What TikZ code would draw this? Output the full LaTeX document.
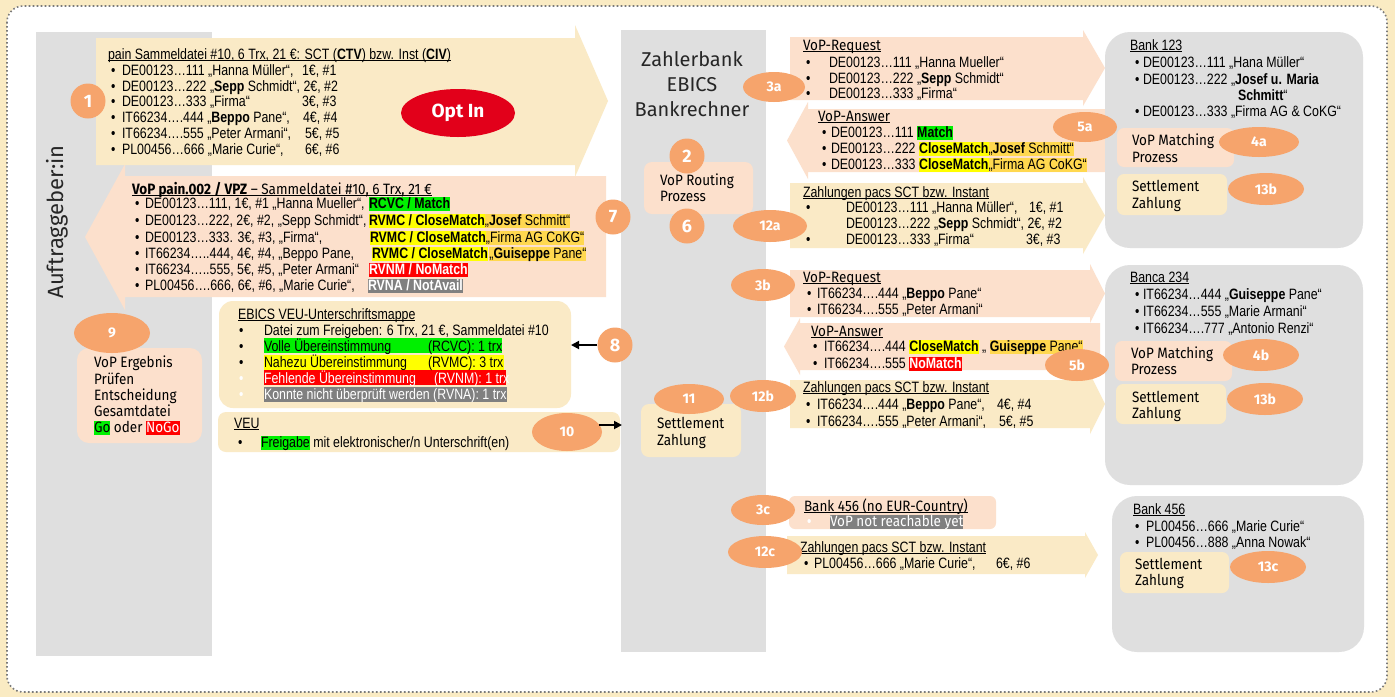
\documentclass[tikz,border=0pt]{standalone}
\usepackage{fontspec}
\usetikzlibrary{shapes.geometric,arrows.meta,calc}
\newfontfamily\an{Liberation Sans}[FakeStretch=0.825]
\newfontfamily\tg{Fira Sans}[FakeStretch=0.9]
\newfontfamily\tgw{Fira Sans}

\definecolor{cream}{HTML}{FAEAC6}
\definecolor{peach}{HTML}{FCE0CC}
\definecolor{badge}{HTML}{F6A46C}
\definecolor{colgray}{HTML}{DFDFDF}
\definecolor{hlgreen}{HTML}{00F000}
\definecolor{hlyellow}{HTML}{FFFF00}
\definecolor{hlgold}{HTML}{FFD84F}
\definecolor{hlred}{HTML}{FF0000}
\definecolor{hlgray}{HTML}{808080}
\definecolor{optred}{HTML}{E2001A}
\definecolor{framebg}{HTML}{FAEBC3}
\definecolor{dotcol}{HTML}{7A7A7A}

\newcommand\ul[1]{\underline{\raisebox{0pt}[\height][0pt]{#1}}}
\newcommand\hl[2]{{\setlength{\fboxsep}{0pt}\colorbox{#1}{\rule[-3pt]{0pt}{12pt}#2}}}
\newcounter{tn}
\newcommand\tline[4][txt]{\stepcounter{tn}\node[#1] (t\arabic{tn}) at (#2,{#3+5}) {#4};}
\newcommand\bull[3][black]{\stepcounter{tn}\node[txt,text=#1] (t\arabic{tn}) at (#2,{#3+5}) {•};}

\begin{document}
\begin{tikzpicture}[x=1pt,y=-1pt,
  txt/.style={anchor=base west, inner sep=0, outer sep=0, font=\an\fontsize{15}{18}\selectfont},
  lab/.style={txt, font=\tg\fontsize{15}{18}\selectfont},
  panel/.style={inner sep=0, outer sep=0, anchor=north west},
  badgee/.style 2 args={ellipse, fill=badge, inner sep=0, minimum width=#1, minimum height=#2,
     text=white, font=\tgw\bfseries\fontsize{14}{14}\selectfont},
  badgec/.style={circle, fill=badge, inner sep=0, minimum size=35,
     text=white, font=\tgw\bfseries\fontsize{18}{18}\selectfont},
  ptr/.style={-{Triangle[length=8pt,width=8pt]}, line width=1.8pt}]
\useasboundingbox (0,0) rectangle (1395,697);

% frame
\fill[framebg] (0,0) rectangle (1395,697);
\draw[dotcol, fill=white, line width=1.6pt, dash pattern=on 1.6pt off 2.4pt, rounded corners=16pt]
  (7,6) rectangle (1387,692);

% columns
\fill[colgray] (36,32) rectangle (212,656);
\fill[colgray] (621,30) rectangle (766,652);
\node[rotate=90, inner sep=0, font=\tgw\fontsize{22}{22}\selectfont, text=black!85] (auftr) at (57,222) {Auftraggeber:in};
\node[inner sep=0, align=center, font=\tgw\fontsize{20}{25}\selectfont, text=black!85] (zb) at (692,84) {Zahlerbank\\EBICS\\Bankrechner};

% big arrows on the left
\fill[peach] (606,176) -- (125,176) -- (125,164) -- (85,237) -- (125,310) -- (125,297) -- (606,297) -- cycle;
\fill[cream] (96,38) -- (575,38) -- (575,25) -- (608,101) -- (575,177) -- (575,165) -- (96,165) -- cycle;
\node[ellipse, fill=optred, inner sep=0, minimum width=114, minimum height=48, text=white,
  font=\tgw\bfseries\fontsize{19}{19}\selectfont] (optin) at (458,113) {Opt In};

% message arrows on the right
\fill[peach] (790,37) -- (1083,37) -- (1083,30) -- (1105,68) -- (1083,106) -- (1083,100) -- (790,100) -- cycle;
\fill[peach] (1105,109) -- (808,109) -- (808,102) -- (787,140.5) -- (808,179) -- (808,172) -- (1105,172) -- cycle;
\fill[cream] (790,183) -- (1083,183) -- (1083,177) -- (1105,215.5) -- (1083,254) -- (1083,248) -- (790,248) -- cycle;
\fill[peach] (790,270) -- (1090,270) -- (1090,264) -- (1105,293.5) -- (1090,323) -- (1090,317) -- (790,317) -- cycle;
\fill[peach] (1100,323) -- (800,323) -- (800,318) -- (784,346.5) -- (800,375) -- (800,370) -- (1100,370) -- cycle;
\fill[cream] (790,380) -- (1090,380) -- (1090,374) -- (1105,404) -- (1090,434) -- (1090,428) -- (790,428) -- cycle;
\fill[cream] (787,536) -- (1085,536) -- (1085,532) -- (1098,555) -- (1085,578) -- (1085,574) -- (787,574) -- cycle;

% panels
\node[panel, fill=peach, rounded corners=12pt, minimum width=125, minimum height=95] (res) at (77,348) {};
\node[panel, fill=cream, rounded corners=14pt, minimum width=352, minimum height=107] (mappe) at (219,301) {};
\node[panel, fill=cream, rounded corners=8pt, minimum width=402, minimum height=40] (veu) at (218,412) {};
\node[panel, fill=peach, rounded corners=8pt, minimum width=109, minimum height=52] (routing) at (644,162) {};
\node[panel, fill=cream, rounded corners=8pt, minimum width=100, minimum height=53] (settle) at (641,404) {};
\node[panel, fill=peach, rounded corners=6pt, minimum width=207, minimum height=33] (nobank) at (789,496) {};
\node[panel, fill=colgray, rounded corners=25pt, minimum width=258, minimum height=216] (bank1) at (1105,32) {};
\node[panel, fill=colgray, rounded corners=25pt, minimum width=258, minimum height=220] (bank2) at (1105,265) {};
\node[panel, fill=colgray, rounded corners=25pt, minimum width=252, minimum height=156] (bank3) at (1112,496) {};
\node[panel, fill=peach, rounded corners=7pt, minimum width=117, minimum height=39] (match1) at (1117,128) {};
\node[panel, fill=cream, rounded corners=7pt, minimum width=110, minimum height=41] (settle1) at (1117,174) {};
\node[panel, fill=peach, rounded corners=7pt, minimum width=117, minimum height=40] (match2) at (1115,341) {};
\node[panel, fill=cream, rounded corners=7pt, minimum width=110, minimum height=40] (settle2) at (1116,384) {};
\node[panel, fill=cream, rounded corners=7pt, minimum width=109, minimum height=41] (settle3) at (1120,552) {};

% ---- pain file
\tline{108}{54}{\ul{pain Sammeldatei \#10, 6 Trx, 21 €: SCT (\textbf{CTV}) bzw. Inst (\textbf{CIV})}}
\bull{111}{70}\tline{122}{70}{DE00123…111 „Hanna Müller“,}\tline{302}{70}{1€, \#1}
\bull{111}{86}\tline{122}{86}{DE00123…222 „\textbf{Sepp} Schmidt“, 2€, \#2}
\bull{111}{101}\tline{122}{101}{DE00123…333 „Firma“}\tline{302}{101}{3€, \#3}
\bull{111}{117}\tline{122}{117}{IT66234….444 „\textbf{Beppo} Pane“,}\tline{303}{117}{4€, \#4}
\bull{111}{133}\tline{122}{133}{IT66234….555 „Peter Armani“,}\tline{305}{133}{5€, \#5}
\bull{111}{149}\tline{122}{149}{PL00456…666 „Marie Curie“,}\tline{305}{149}{6€, \#6}

% ---- VoP result file
\tline[lab]{132}{189}{\ul{\textbf{VoP pain.002 / VPZ} – Sammeldatei \#10, 6 Trx, 21 €}}
\bull{135}{203}\tline{145}{203}{DE00123…111, 1€, \#1 „Hanna Mueller“,}
\tline{369}{203}{\hl{hlgreen}{\textbf{RCVC / Match}}}
\bull{135}{220}\tline{145}{220}{DE00123…222, 2€, \#2, „Sepp Schmidt“,}
\tline{369}{220}{\hl{hlyellow}{\textbf{RVMC / CloseMatch}}\hl{hlgold}{„\textbf{Josef} Schmitt“}}
\bull{135}{237}\tline{145}{237}{DE00123…333. 3€, \#3, „Firma“,}
\tline{370}{237}{\hl{hlyellow}{\textbf{RVMC / CloseMatch}}\hl{hlgold}{„Firma AG CoKG“}}
\bull{135}{253}\tline{145}{253}{IT66234…..444, 4€, \#4, „Beppo Pane,}
\tline{372}{253}{\hl{hlyellow}{\textbf{RVMC / CloseMatch}}\hspace{1.5pt}\hl{hlgold}{„\textbf{Guiseppe} Pane“}}
\bull{135}{269}\tline{145}{269}{IT66234…..555, 5€, \#5, „Peter Armani“}
\tline{369}{269}{\hl{hlred}{\color{white}\textbf{RVNM / NoMatch}}}
\bull{135}{285}\tline{145}{285}{PL00456….666, 6€, \#6, „Marie Curie“,}
\tline{368}{285}{\hl{hlgray}{\color{white}\textbf{RVNA / NotAvail}}}

% ---- decision
\tline[lab]{94}{362}{VoP Ergebnis}
\tline[lab]{94}{379}{Prüfen}
\tline[lab]{94}{395}{Entscheidung}
\tline[lab]{94}{411}{Gesamtdatei}
\tline[lab]{94}{427}{\hl{hlgreen}{Go} oder \hl{hlred}{\color{white}NoGo}}

% ---- EBICS signature folder
\fill[hlgreen] (264,338) rectangle (502,353);
\fill[hlyellow] (264,355) rectangle (504,370);
\fill[hlred] (264,370) rectangle (506,385);
\fill[hlgray] (264,387) rectangle (507,402);
\tline{238}{314}{\ul{EBICS VEU-Unterschriftsmappe}}
\bull{239}{330}\tline{264}{330}{Datei zum Freigeben: 6 Trx, 21 €, Sammeldatei \#10}
\bull{239}{346}\tline{264}{346}{Volle Übereinstimmung}\tline{428}{346}{(RCVC): 1 trx}
\bull{239}{362}\tline{264}{362}{Nahezu Übereinstimmung}\tline{428}{362}{(RVMC): 3 trx}
\bull[white]{239}{378}\tline{264}{378}{\color{white}Fehlende Übereinstimmung}\tline{434}{378}{\color{white}(RVNM): 1 trx}
\bull[white]{239}{394}\tline{264}{394}{\color{white}Konnte nicht überprüft werden (RVNA): 1 trx}

% ---- VEU
\tline{234}{423}{\ul{VEU}}
\bull{238}{442}\tline{261}{442}{\hl{hlgreen}{Freigabe} mit elektronischer/n Unterschrift(en)}

% ---- bank computer
\tline[lab]{660}{180}{VoP Routing}
\tline[lab]{660}{196}{Prozess}
\tline[lab]{657}{423}{Settlement}
\tline[lab]{657}{440}{Zahlung}

% ---- Bank 123 messages
\tline[lab]{803}{45}{\ul{VoP-Request}}
\bull{806}{62}\tline{829}{62}{DE00123…111 „Hanna Mueller“}
\bull{806}{78}\tline{829}{78}{DE00123…222 „\textbf{Sepp} Schmidt“}
\bull{806}{93}\tline{829}{93}{DE00123…333 „Firma“}
\tline[lab]{818}{116}{\ul{VoP-Answer}}
\bull{822}{132}\tline{831}{132}{DE00123…111 \hl{hlgreen}{\textbf{Match}}}
\bull{822}{148}\tline{831}{148}{DE00123…222 \hl{hlyellow}{\textbf{CloseMatch}}\hl{hlgold}{„\textbf{Josef} Schmitt“}}
\bull{822}{164}\tline{831}{164}{DE00123…333 \hl{hlyellow}{\textbf{CloseMatch}}\hl{hlgold}{„Firma AG CoKG“}}
\tline{803}{192}{\ul{Zahlungen pacs SCT bzw. Instant}}
\bull{806}{207}\tline{846}{207}{DE00123…111 „Hanna Müller“,}\tline{1029}{207}{1€, \#1}
\tline{846}{223}{DE00123…222 „\textbf{Sepp} Schmidt“, 2€, \#2}
\bull{806}{239}\tline{846}{239}{DE00123…333 „Firma“}\tline{1026}{239}{3€, \#3}

% ---- Bank 123
\tline{1130}{45}{\ul{Bank 123}}
\bull{1135}{62}\tline{1143}{62}{DE00123…111 „Hana Müller“}
\bull{1135}{79}\tline{1143}{79}{DE00123…222 „\textbf{Josef u. Maria}}
\tline{1238}{95}{\textbf{Schmitt}“}
\bull{1135}{111}\tline{1143}{111}{DE00123…333 „Firma AG \& CoKG“}
\tline[lab]{1132}{140}{VoP Matching}
\tline[lab]{1132}{157}{Prozess}
\tline[lab]{1132}{186}{Settlement}
\tline[lab]{1132}{203}{Zahlung}

% ---- Banca 234 messages
\tline[lab]{803}{277}{\ul{VoP-Request}}
\bull{807}{293}\tline{817}{293}{IT66234….444 „\textbf{Beppo} Pane“}
\bull{807}{309}\tline{817}{309}{IT66234….555 „Peter Armani“}
\tline[lab]{811}{331}{\ul{VoP-Answer}}
\bull{813}{346}\tline{824}{346}{IT66234….444 \hl{hlyellow}{\textbf{CloseMatch}} „ \hl{hlgold}{\textbf{Guiseppe} Pane“}}
\bull{813}{363}\tline{824}{363}{IT66234….555 \hl{hlred}{\color{white}\textbf{NoMatch}}}
\tline{803}{387}{\ul{Zahlungen pacs SCT bzw. Instant}}
\bull{806}{404}\tline{817}{404}{IT66234….444 „\textbf{Beppo} Pane“,}\tline{997}{404}{4€, \#4}
\bull{806}{421}\tline{817}{421}{IT66234….555 „Peter Armani“,}\tline{999}{421}{5€, \#5}

% ---- Banca 234
\tline{1130}{277}{\ul{Banca 234}}
\bull{1135}{294}\tline{1143}{294}{IT66234…444 „\textbf{Guiseppe} Pane“}
\bull{1135}{311}\tline{1143}{311}{IT66234…555 „Marie Armani“}
\bull{1135}{328}\tline{1143}{328}{IT66234….777 „Antonio Renzi“}
\tline[lab]{1131}{353}{VoP Matching}
\tline[lab]{1131}{369}{Prozess}
\tline[lab]{1132}{397}{Settlement}
\tline[lab]{1132}{413}{Zahlung}

% ---- Bank 456 messages
\tline[lab]{804}{506}{\ul{Bank 456 (no EUR-Country)}}
\bull[white]{807}{521}\tline[lab]{830}{521}{\hl{hlgray}{\color{white}VoP not reachable yet}}
\tline{800}{547}{\ul{Zahlungen pacs SCT bzw. Instant}}
\bull{804}{563}\tline{814}{563}{PL00456…666 „Marie Curie“,}\tline{996}{563}{6€, \#6}

% ---- Bank 456
\tline{1133}{509}{\ul{Bank 456}}
\bull{1135}{526}\tline{1146}{526}{PL00456…666 „Marie Curie“}
\bull{1135}{542}\tline{1146}{542}{PL00456…888 „Anna Nowak“}
\tline[lab]{1135}{564}{Settlement}
\tline[lab]{1135}{580}{Zahlung}

% ---- step badges
\node[badgec] (n1) at (88,101) {1};
\node[badgec] (n2) at (687,156) {2};
\node[badgec] (n6) at (687,226) {6};
\node[badgec] (n7) at (613,217) {7};
\node[badgec] (n8) at (615,345) {8};
\node[badgee={76}{40}] (n9) at (112,333) {9};
\node[badgee={70}{38}] (n10) at (567,432) {10};
\node[badgee={70}{30}] (n11) at (689,399) {11};
\node[badgee={62}{30}] (n3a) at (774,87) {3a};
\node[badgee={64}{30}] (n5a) at (1085,127) {5a};
\node[badgee={74}{32}] (n12a) at (770,226) {12a};
\node[badgee={80}{30}] (n4a) at (1259,142) {4a};
\node[badgee={76}{32}] (n13b1) at (1266,189) {13b};
\node[badgee={64}{32}] (n3b) at (763,285) {3b};
\node[badgee={64}{32}] (n5b) at (1077,365) {5b};
\node[badgee={66}{32}] (n12b) at (763,396) {12b};
\node[badgee={76}{32}] (n4b) at (1261,355) {4b};
\node[badgee={76}{32}] (n13b2) at (1265,399) {13b};
\node[badgee={64}{30}] (n3c) at (763,510) {3c};
\node[badgee={74}{32}] (n12c) at (765,552) {12c};
\node[badgee={76}{32}] (n13c) at (1268,567) {13c};

% ---- pointers
\draw[ptr] (n8.west) -- (n8 -| mappe.east);
\coordinate (c10) at (622,425);
\draw[ptr] ($(n10.east |- c10)+(-3,0)$) -- (c10);
\end{tikzpicture}
\end{document}
